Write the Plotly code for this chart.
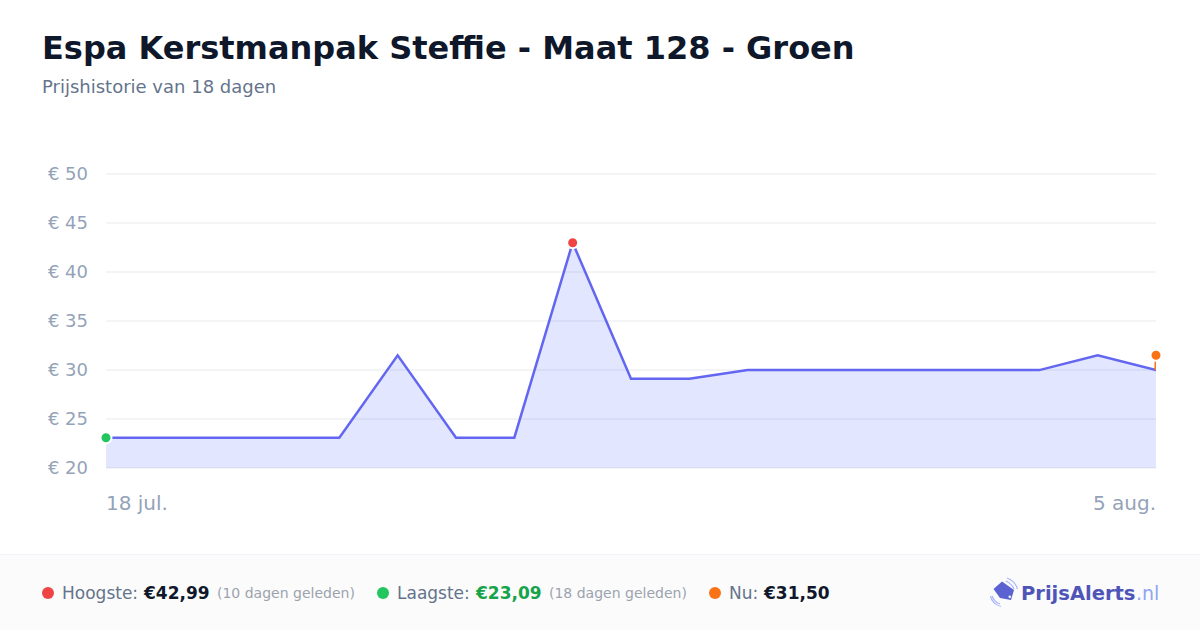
import plotly.graph_objects as go

# Data ------------------------------------------------------------------------
dates = ["2025-07-18", "2025-07-19", "2025-07-20", "2025-07-21", "2025-07-22",
         "2025-07-23", "2025-07-24", "2025-07-25", "2025-07-26", "2025-07-27",
         "2025-07-28", "2025-07-29", "2025-07-30", "2025-07-31", "2025-08-01",
         "2025-08-02", "2025-08-03", "2025-08-04", "2025-08-05"]
prices = [23.09, 23.09, 23.09, 23.09, 23.09, 31.50, 23.09, 23.09, 42.99, 29.10,
          29.10, 29.99, 29.99, 29.99, 29.99, 29.99, 29.99, 31.50, 29.99]
y_ticks = [20, 25, 30, 35, 40, 45, 50]
y_labels = ["€ 20", "€ 25", "€ 30", "€ 35", "€ 40", "€ 45", "€ 50"]
high_date, high_price = "2025-07-26", 42.99
low_date, low_price = "2025-07-18", 23.09
now_date, now_price = "2025-08-05", 31.50

W, H = 1200, 630
L, R, T, B = 106, 1156, 174, 468
FONT = "DejaVu Sans"
GREY = "#94a3b8"
SOFT = "#9ca3af"
SLATE = "#64748b"
DARK = "#0f172a"
RED, GREEN, ORANGE = "#ef4444", "#22c55e", "#f97316"


def px(x):
    return (x - L) / (R - L)


def py(y):
    return (B - y) / (B - T)


def text(x, y, s, size, color, anchor="left", bold=False, family=FONT):
    fig.add_annotation(x=px(x), y=py(y), xref="paper", yref="paper", text=f"<b>{s}</b>" if bold else s,
                       showarrow=False, xanchor=anchor, yanchor="middle", borderpad=0, borderwidth=0,
                       xshift=0, font=dict(family=family, size=size, color=color))


def path(points):
    return "M " + " L ".join(f"{px(x):.5f} {py(y):.5f}" for x, y in points) + " Z"


def curve(x0, y0, cx, cy, x1, y1):
    return f"M {px(x0):.5f} {py(y0):.5f} Q {px(cx):.5f} {py(cy):.5f} {px(x1):.5f} {py(y1):.5f}"


fig = go.Figure()

# price line + fill
fig.add_trace(go.Scatter(x=dates, y=prices, mode="lines", fill="tozeroy",
                         fillcolor="rgba(99,120,255,0.19)",
                         line=dict(color="#6366f1", width=2.5), cliponaxis=True))
# stem from the current-price dot to the line
fig.add_trace(go.Scatter(x=[now_date, now_date], y=[now_price, prices[-1]], mode="lines",
                         line=dict(color=ORANGE, width=3), cliponaxis=False))
# highest / lowest / current dots
for d, p, c in [(high_date, high_price, RED), (low_date, low_price, GREEN), (now_date, now_price, ORANGE)]:
    fig.add_trace(go.Scatter(x=[d], y=[p], mode="markers", cliponaxis=False,
                             marker=dict(color=c, size=11, line=dict(color="white", width=2))))

# plotly skips gridlines on the range edges, so the 20 and 50 lines are shapes.
# paper refs because shapes on the y axis get clipped to half their width there
for yp in (0, 1):
    fig.add_shape(type="line", xref="paper", yref="paper", x0=0, x1=1, y0=yp, y1=yp,
                  line=dict(color="#f3f4f6", width=2), layer="below")

# footer band
fig.add_shape(type="rect", xref="paper", yref="paper", x0=px(0), x1=px(W), y0=py(555), y1=py(630),
              fillcolor="#fbfbfb", line_width=0, layer="below")
fig.add_shape(type="line", xref="paper", yref="paper", x0=px(0), x1=px(W), y0=py(554.5), y1=py(554.5),
              line=dict(color="#f1f5f9", width=1), layer="below")

# header
text(42, 48, "Espa Kerstmanpak Steffie - Maat 128 - Groen", 32, DARK, bold=True)
text(42, 86.5, "Prijshistorie van 18 dagen", 18, SLATE)

# first / last date, aligned to the plot edges
text(106, 503, "18 jul.", 20, GREY)
text(1156, 503, "5 aug.", 20, GREY, anchor="right")

# footer legend
for cx, c in [(48, RED), (383, GREEN), (715, ORANGE)]:
    fig.add_shape(type="circle", xref="paper", yref="paper", x0=px(cx - 6), x1=px(cx + 6),
                  y0=py(593 + 6), y1=py(593 - 6), fillcolor=c, line_width=0)
text(62, 593, "Hoogste:", 17, SLATE)
text(143, 593, "€42,99", 17, DARK, bold=True)
text(217, 593, "(10 dagen geleden)", 14, SOFT)
text(397, 593, "Laagste:", 17, SLATE)
text(475, 593, "€23,09", 17, "#16a34a", bold=True)
text(549, 593, "(18 dagen geleden)", 14, SOFT)
text(729, 593, "Nu:", 17, SLATE)
text(763, 593, "€31,50", 17, DARK, bold=True)

# logo
fig.add_shape(type="path", xref="paper", yref="paper", fillcolor="#5b63d3", line_width=0,
              path=path([(1002, 581.5), (1014, 590), (1011, 600), (1000, 598), (993.5, 589)]))
fig.add_shape(type="circle", xref="paper", yref="paper", x0=px(1008.5), x1=px(1011), y0=py(598), y1=py(595.5),
              fillcolor="white", line_width=0)
for a in [(1006, 581, 1012, 584, 1014, 589), (1007, 578, 1015, 581, 1017.5, 589),
          (992, 596, 994, 602, 1000, 604), (990.5, 596, 992, 604, 1001, 606.5)]:
    fig.add_shape(type="path", xref="paper", yref="paper", path=curve(*a),
                  line=dict(color="#a5b4fc", width=1.2))
text(1021, 593, "PrijsAlerts", 19.5, "#4f55b8", bold=True)
text(1136, 593, ".nl", 19, "#8fa5f5")

fig.update_layout(
    width=W, height=H, showlegend=False, paper_bgcolor="white", plot_bgcolor="white",
    margin=dict(l=L, r=W - R, t=T, b=H - B, pad=0),
    xaxis=dict(type="date", range=[dates[0], dates[-1]], showticklabels=False, showgrid=False,
               zeroline=False, ticks=""),
    yaxis=dict(range=[20, 50], tickvals=y_ticks, ticktext=y_labels, showgrid=True, gridcolor="#f3f4f6",
               gridwidth=2, zeroline=False, showline=False, ticks="", ticklabelstandoff=17,
               tickfont=dict(family=FONT, size=18, color=GREY)),
)
fig.write_html("out.html", config={"displayModeBar": False},
               post_script="document.body.style.margin='0';document.body.style.overflow='hidden';")
